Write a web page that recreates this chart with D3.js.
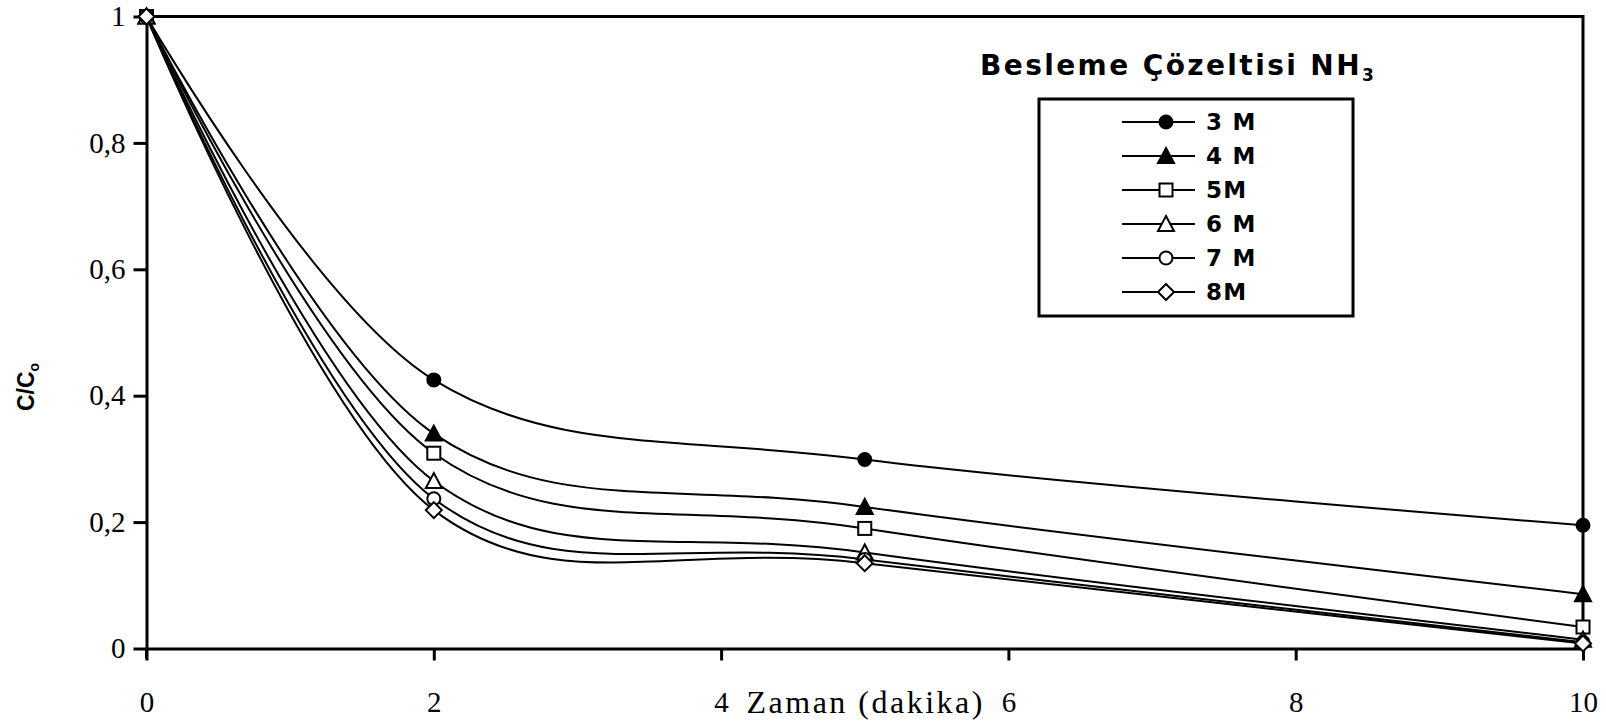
<!DOCTYPE html>
<html>
<head>
<meta charset="utf-8">
<script src="https://cdn.jsdelivr.net/npm/d3@7"></script>
<style>
  html, body { margin: 0; padding: 0; background: #fff; }
  svg { display: block; }
</style>
</head>
<body>
<svg id="chart" width="1606" height="723"></svg>
<script>
// Time points (minutes)
const times = [0, 2, 5, 10];

// C/C0 for each NH3 feed concentration
const series3M = [1, 0.425, 0.299, 0.195];
const series4M = [1, 0.340, 0.224, 0.086];
const series5M = [1, 0.309, 0.190, 0.034];
const series6M = [1, 0.265, 0.152, 0.014];
const series7M = [1, 0.237, 0.141, 0.010];
const series8M = [1, 0.219, 0.135, 0.008];

const seriesNames = ["3 M", "4 M", "5M", "6 M", "7 M", "8M"];
const seriesMarkers = ["circleFilled", "triangleFilled", "square", "triangle", "circle", "diamond"];

const xTicks = [0, 2, 4, 6, 8, 10];
const yTicks = [0, 0.2, 0.4, 0.6, 0.8, 1];
const yTickLabels = ["0", "0,2", "0,4", "0,6", "0,8", "1"];

const allSeries = [series3M, series4M, series5M, series6M, series7M, series8M];

const svg = d3.select("#chart");
const margin = { left: 146.5, right: 1583, top: 16.5, bottom: 648.5 };

const x = d3.scaleLinear().domain([0, 10]).range([margin.left, margin.right]);
const y = d3.scaleLinear().domain([0, 1]).range([margin.bottom, margin.top]);

const serif = "'Liberation Serif', 'Times New Roman', serif";

// Plot frame: top and right edges
svg.append("path")
  .attr("d", `M${margin.left},${margin.top}H${margin.right}V${margin.bottom}`)
  .attr("fill", "none").attr("stroke", "#000").attr("stroke-width", 3);

// Axes
const xAxis = svg.append("g")
  .attr("transform", `translate(0,${margin.bottom})`)
  .call(d3.axisBottom(x).tickValues(xTicks).tickSize(12).tickPadding(31).tickSizeOuter(0)
        .tickFormat(d => String(d)));
const yAxis = svg.append("g")
  .attr("transform", `translate(${margin.left},0)`)
  .call(d3.axisLeft(y).tickValues(yTicks).tickSize(13).tickPadding(8).tickSizeOuter(0)
        .tickFormat((d, i) => yTickLabels[i]));

[xAxis, yAxis].forEach(g => {
  g.select(".domain").attr("stroke", "#000").attr("stroke-width", 3);
  g.selectAll(".tick line").attr("stroke", "#000").attr("stroke-width", 3);
  g.selectAll(".tick text")
    .attr("font-family", serif)
    .attr("font-size", 29).attr("fill", "#000");
});
// extend y axis slightly below the x axis
svg.append("line")
  .attr("x1", margin.left).attr("x2", margin.left)
  .attr("y1", margin.bottom).attr("y2", margin.bottom + 10)
  .attr("stroke", "#000").attr("stroke-width", 3);

// X axis title sits between the 4 and 6 ticks, on the tick label line
svg.append("text")
  .attr("x", x(5) + 1).attr("y", 713)
  .attr("text-anchor", "middle")
  .attr("font-family", serif)
  .attr("font-size", 32)
  .attr("letter-spacing", 2.5)
  .text("Zaman (dakika)");

// Y axis title C/C0
const yTitle = svg.append("text")
  .attr("transform", `translate(34,387) rotate(-90)`)
  .attr("text-anchor", "middle")
  .attr("font-family", "'Liberation Sans', Arial, sans-serif")
  .attr("font-weight", "bold")
  .attr("font-size", 23);
yTitle.append("tspan").text("C/C");
yTitle.append("tspan").attr("font-size", 14).attr("dy", 5).text("o");

// Marker drawing
function drawMarker(g, type, cx, cy) {
  const s = 7;
  let el;
  switch (type) {
    case "circleFilled":
      el = g.append("circle").attr("cx", cx).attr("cy", cy).attr("r", 6.5).attr("fill", "#000");
      break;
    case "circle":
      el = g.append("circle").attr("cx", cx).attr("cy", cy).attr("r", 6.5).attr("fill", "#fff");
      break;
    case "triangleFilled":
      el = g.append("path").attr("d", `M${cx},${cy - s - 1}L${cx + s + 1},${cy + s}L${cx - s - 1},${cy + s}Z`).attr("fill", "#000");
      break;
    case "triangle":
      el = g.append("path").attr("d", `M${cx},${cy - s - 1}L${cx + s + 1},${cy + s}L${cx - s - 1},${cy + s}Z`).attr("fill", "#fff");
      break;
    case "square":
      el = g.append("rect").attr("x", cx - 6.5).attr("y", cy - 6.5).attr("width", 13).attr("height", 13).attr("fill", "#fff");
      break;
    case "diamond":
      el = g.append("path").attr("d", `M${cx},${cy - s - 1}L${cx + s + 1},${cy}L${cx},${cy + s + 1}L${cx - s - 1},${cy}Z`).attr("fill", "#fff");
      break;
  }
  el.attr("stroke", "#000").attr("stroke-width", 2);
}

// Smoothed lines
const line = d3.line()
  .x((d, i) => x(times[i]))
  .y(d => y(d))
  .curve(d3.curveCardinal.tension(0));

const plot = svg.append("g");
allSeries.forEach(vals => {
  plot.append("path")
    .attr("d", line(vals))
    .attr("fill", "none")
    .attr("stroke", "#000")
    .attr("stroke-width", 2);
});
allSeries.forEach((vals, si) => {
  vals.forEach((v, i) => drawMarker(plot, seriesMarkers[si], x(times[i]), y(v)));
});

// Legend
const legendTitle = svg.append("text")
  .attr("x", 980).attr("y", 75)
  .attr("font-family", "'DejaVu Sans', Arial, sans-serif")
  .attr("font-weight", "bold")
  .attr("font-size", 28)
  .attr("letter-spacing", 2.4);
legendTitle.append("tspan").text("Besleme Çözeltisi NH");
legendTitle.append("tspan").attr("font-size", 17).attr("dy", 6).attr("letter-spacing", 0).text("3");

svg.append("rect")
  .attr("x", 1039).attr("y", 99).attr("width", 314).attr("height", 217)
  .attr("fill", "#fff").attr("stroke", "#000").attr("stroke-width", 3);

const legend = svg.append("g");
seriesNames.forEach((name, i) => {
  const cy = 122 + i * 34;
  legend.append("line")
    .attr("x1", 1122).attr("x2", 1195).attr("y1", cy).attr("y2", cy)
    .attr("stroke", "#000").attr("stroke-width", 2);
  drawMarker(legend, seriesMarkers[i], 1166, cy);
  legend.append("text")
    .attr("x", 1206).attr("y", cy + 8)
    .attr("font-family", "'DejaVu Sans', Arial, sans-serif")
    .attr("font-weight", "bold")
    .attr("font-size", 23)
    .attr("letter-spacing", 1.3)
    .text(name);
});
</script>
</body>
</html>
